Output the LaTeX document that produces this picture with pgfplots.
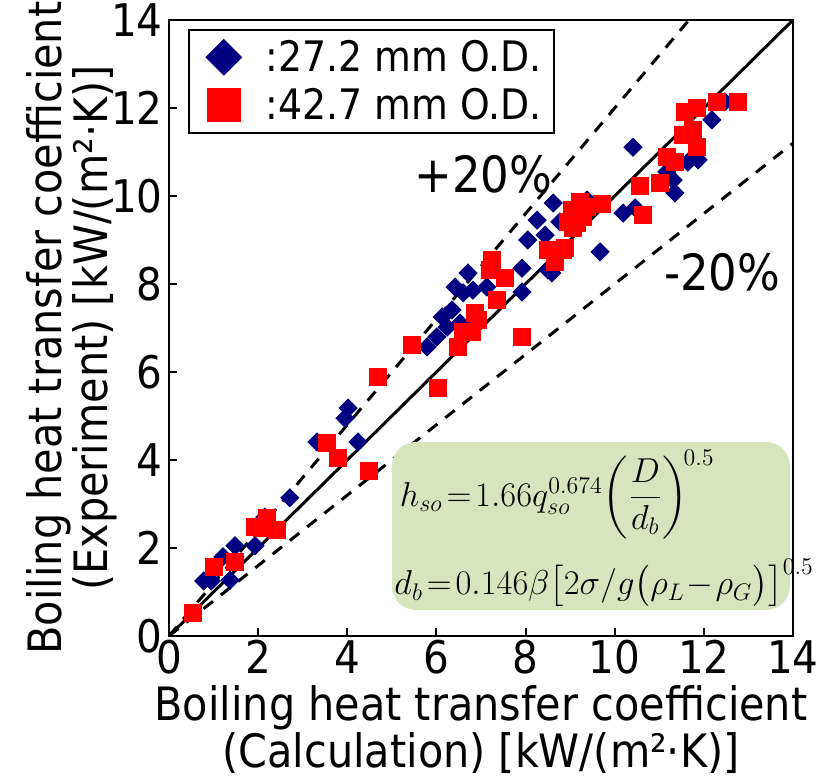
\documentclass[border=0pt]{standalone}
\usepackage[no-math]{fontspec}
\setmainfont{DejaVu Sans}[FakeStretch=0.9]
\usepackage{amsmath}
\usepackage{pgfplots}
\pgfplotsset{compat=1.18}
\definecolor{navy}{RGB}{0,0,128}
\definecolor{boxgreen}{RGB}{216,228,189}

\begin{document}
\begin{tikzpicture}
\begin{axis}[
    width=312pt, height=308pt, scale only axis,
    xmin=0, xmax=14, ymin=0, ymax=14,
    clip=false,
    xtick={0,2,...,14}, ytick={0,2,...,14},
    tick pos=left, tick align=inside,
    major tick length=4pt,
    axis line style={line width=1pt},
    tick style={line width=1pt, black},
    /pgf/number format/assume math mode=true,
    ticklabel style={font=\fontsize{22.5}{24}\selectfont},
    xticklabel style={inner sep=2pt},
    yticklabel style={inner sep=3pt},
    xlabel={Boiling heat transfer coefficient\\(Calculation) [kW/(m²·K)]},
    ylabel={Boiling heat transfer coefficient\\(Experiment) [kW/(m²·K)]},
    label style={font=\fontsize{23}{21}\selectfont, align=center, inner sep=0pt},
    xlabel style={at={(axis description cs:0.5,-0.08)}, anchor=north},
    ylabel style={at={(axis description cs:-0.082,0.5)}, anchor=south},
    legend cell align=left,
    legend style={at={(0.03,0.985)}, anchor=north west, draw=black, line width=1pt,
        fill=white, font=\fontsize{21}{22}\selectfont, row sep=3pt,
        inner xsep=4pt, inner ysep=3pt},
]
\coordinate (ll) at (rel axis cs:0,0);
\coordinate (ur) at (rel axis cs:1,1);

% reference lines: 1:1 and +-20%
\addplot[black, line width=1.5pt, forget plot] coordinates {(0,0) (14,14)};
\addplot[black, line width=1.5pt, dash pattern=on 6pt off 5pt, forget plot] coordinates {(0,0) (11.667,14)};
\addplot[black, line width=1.5pt, dash pattern=on 6pt off 5pt, forget plot] coordinates {(0,0) (14,11.2)};

% 27.2 mm O.D.
\addplot[only marks, mark=square*, mark size=3.2pt,
    mark options={rotate=45, fill=navy, draw=navy},
    legend image code/.code={
        \path[draw=none] (0,0) -- (0.3cm+24pt,0);
        \fill[navy] (0.3cm+5pt,8.5pt) -- (0.3cm+13.5pt,0pt) -- (0.3cm+5pt,-8.5pt) -- (0.3cm-3.5pt,0pt) -- cycle;}]
coordinates {
(0.78,1.25) (0.95,1.25) (1.37,1.27) (1.21,1.80) (1.48,2.05) (1.93,2.05)
(2.15,2.70) (2.27,2.41) (2.71,3.14) (3.32,4.41) (4.24,4.41) (4.02,5.18)
(3.95,4.95) (5.79,6.57) (6.01,6.80) (6.13,7.25) (6.24,7.02) (6.35,7.41)
(6.42,7.93) (6.60,7.80) (6.71,8.25) (6.82,7.86) (7.13,7.93) (6.53,7.11)
(7.92,8.36) (7.92,7.82) (8.05,9.00) (8.26,9.45) (8.44,9.11) (8.62,9.84)
(8.77,9.41) (8.50,8.32) (8.59,8.25) (9.67,8.73) (9.38,9.91) (10.19,9.61)
(10.46,9.73) (10.41,11.11) (11.17,10.55) (11.31,10.36) (11.35,10.07)
(11.64,10.77) (11.87,10.82) (12.18,11.73) (12.47,12.14)
};
\addlegendentry{:27.2 mm O.D.}

% 42.7 mm O.D.
\addplot[only marks, mark=square*, mark size=4.3pt,
    mark options={fill=red, draw=red},
    legend image code/.code={
        \path[draw=none] (0,0) -- (0.3cm+24pt,0);
        \fill[red] (0.3cm-3pt,-8pt) rectangle (0.3cm+13pt,8pt);}]
coordinates {
(0.54,0.52) (1.01,1.57) (1.48,1.68) (1.93,2.48) (2.20,2.68) (2.42,2.41)
(2.09,2.45) (3.54,4.39) (3.79,4.05) (4.49,3.75) (4.69,5.89) (5.45,6.61)
(6.04,5.64) (6.48,6.57) (6.60,6.91) (6.80,6.91) (6.87,7.34) (6.93,7.18)
(7.25,8.55) (7.20,8.32) (7.54,8.14) (7.36,7.64) (7.92,6.80) (8.50,8.77)
(8.66,8.50) (8.84,8.77) (8.95,9.41) (9.04,9.68) (9.22,9.86) (9.29,9.52)
(9.06,9.27) (9.71,9.82) (10.63,9.57) (10.57,10.23) (11.02,10.30)
(11.17,10.89) (11.35,10.77) (11.53,11.39) (11.85,11.11) (11.76,11.50)
(11.58,11.91) (11.85,12.00) (12.30,12.14) (12.77,12.14) (8.88,8.82)
(9.27,9.68) (9.15,9.39) (9.38,9.75)
};
\addlegendentry{:42.7 mm O.D.}

% correlation box
\fill[boxgreen, rounded corners=12pt] (axis cs:5.0,0.59) rectangle (axis cs:13.93,4.41);
\node[anchor=west, inner sep=0pt, font=\fontsize{17.5}{18}\selectfont] at (axis cs:5.17,3.22)
    {$h_{so}\!=\!1.66q_{so}^{0.674}\!\left(\dfrac{D}{d_b}\right)^{\!0.5}$};
\node[anchor=west, inner sep=0pt, font=\fontsize{17}{18}\selectfont] at (axis cs:5.05,1.2)
    {$d_b\!=\!0.146\beta\bigl[2\sigma/g\bigl(\rho_L\!-\!\rho_G\bigr)\bigr]^{0.5}$};

\node[font=\fontsize{25}{26}\selectfont] at (axis cs:7.05,10.5) {+20\%};
\node[font=\fontsize{25}{26}\selectfont] at (axis cs:12.41,8.27) {-20\%};
\end{axis}
\pgfresetboundingbox
\path ([shift={(-84.5pt,-71.5pt)}]ll) rectangle ([shift={(16pt,10pt)}]ur);
\end{tikzpicture}
\end{document}
